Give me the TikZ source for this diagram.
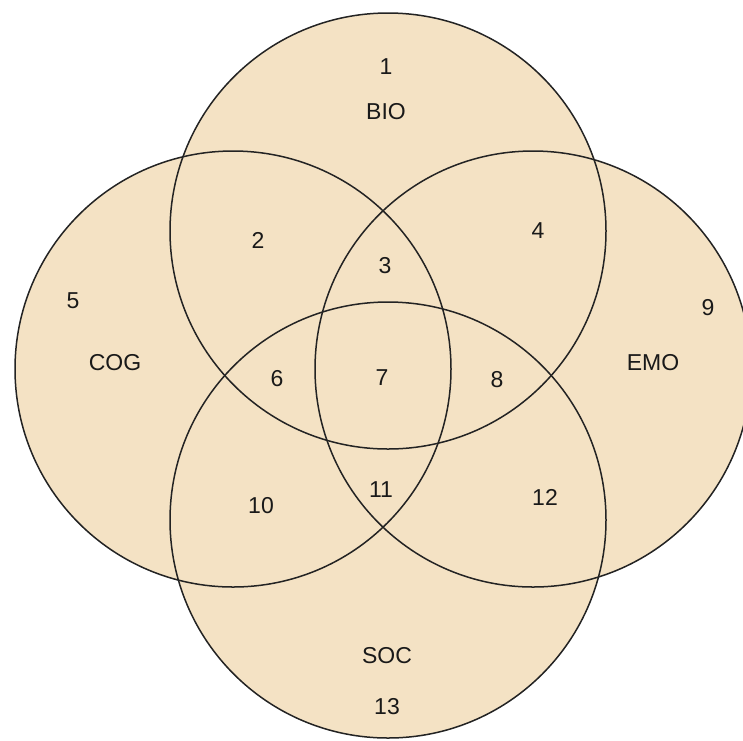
\documentclass[tikz,border=0pt]{standalone}
\usepackage{fontspec}
\setmainfont{Liberation Sans}
\definecolor{venn}{RGB}{244,226,196}
\definecolor{edge}{RGB}{35,35,35}
\begin{document}
\begin{tikzpicture}[x=1pt,y=-1pt,
  setfill/.style={fill=venn,draw=none},
  setedge/.style={draw=edge,line width=1.5pt},
  lbl/.style={font=\fontsize{23}{27}\selectfont,text=black!90,inner sep=0pt}]
\useasboundingbox (0,0) rectangle (743,740);
\clip (0,0) rectangle (743,740);
\coordinate (cb) at (388,231);
\coordinate (cc) at (233,369);
\coordinate (ce) at (533,369);
\coordinate (cs) at (388,520);
\foreach \c in {cb,cc,ce,cs} \fill[setfill] (\c) circle (218);
\foreach \c in {cb,cc,ce,cs} \draw[setedge] (\c) circle (218);
\node[lbl] (n1) at (386,67) {1};
\node[lbl] (bio) at (386,112) {BIO};
\node[lbl] (n2) at (258,240) {2};
\node[lbl] (n3) at (385,266) {3};
\node[lbl] (n4) at (538,231) {4};
\node[lbl] (n5) at (73,301) {5};
\node[lbl] (cog) at (115,363) {COG};
\node[lbl] (n6) at (277,379) {6};
\node[lbl] (n7) at (382,378) {7};
\node[lbl] (n8) at (497,380) {8};
\node[lbl] (n9) at (708,308) {9};
\node[lbl] (emo) at (653,363) {EMO};
\node[lbl] (n10) at (261,506) {10};
\node[lbl] (n11) at (381,490) {11};
\node[lbl] (n12) at (545,497) {12};
\node[lbl] (soc) at (387,656) {SOC};
\node[lbl] (n13) at (387,707) {13};
\end{tikzpicture}
\end{document}
